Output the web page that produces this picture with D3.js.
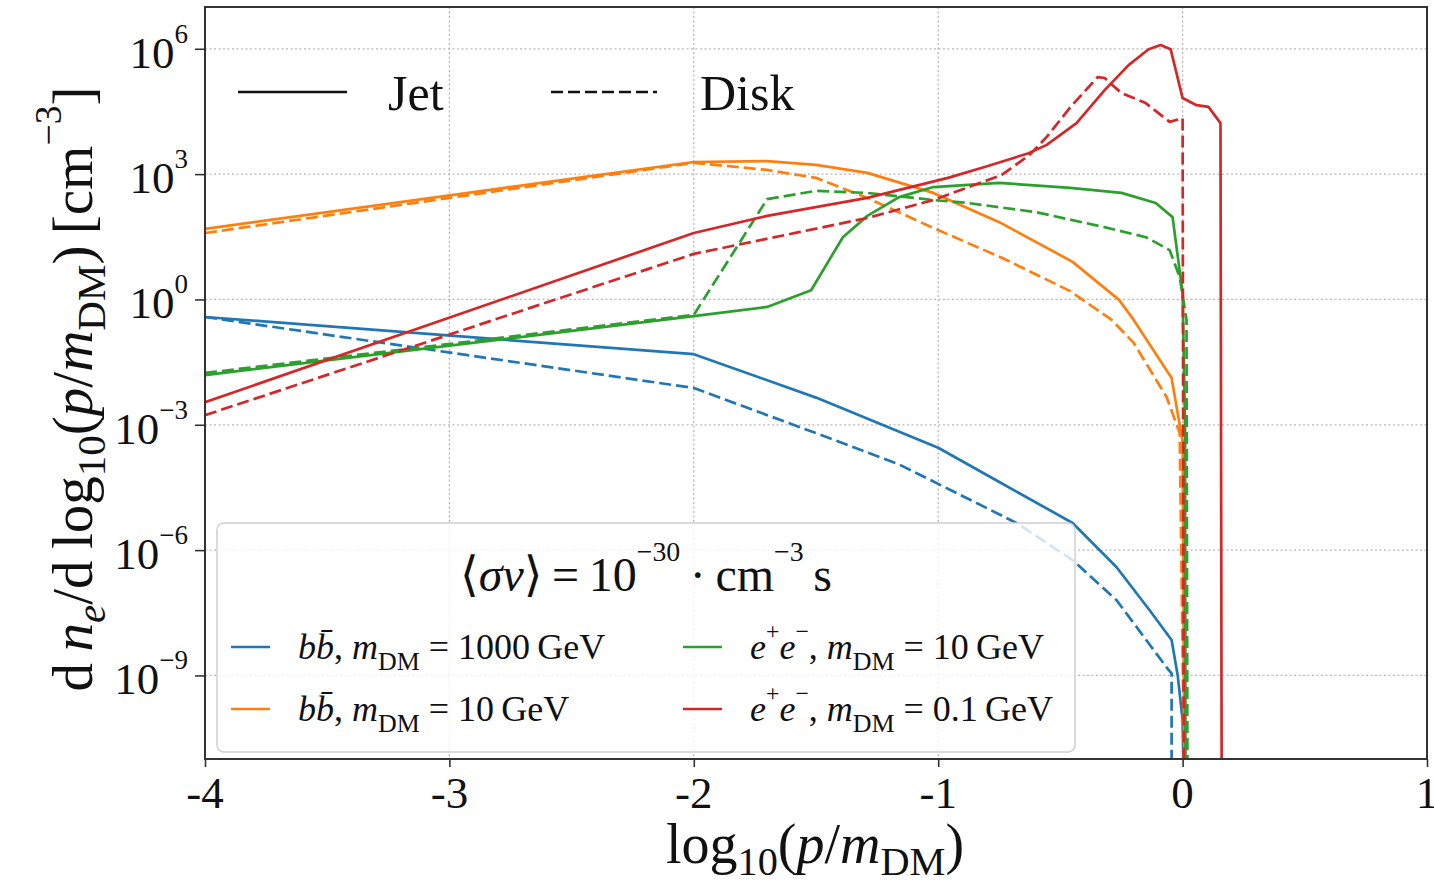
<!DOCTYPE html>
<html>
<head>
<meta charset="utf-8">
<script src="https://cdn.jsdelivr.net/npm/d3@7"></script>
<style>
  body { margin: 0; background: #fff; }
  svg { display: block; }
</style>
</head>
<body>
<div id="chart"></div>
<script>
// points are [log10(p/mDM), log10(dn/dlog)]
var bbHeavyJet = [[-4,-0.42],[-2,-1.31],[-1.5,-2.35],[-1,-3.55],[-0.75,-4.37],[-0.45,-5.35],[-0.27,-6.41],[-0.135,-7.44],[-0.045,-8.15],[-0.02,-9.0],[0,-10.07],[0.006,-12]];
var bbHeavyDisk = [[-4,-0.42],[-2,-2.12],[-1.5,-3.2],[-1.16,-3.95],[-0.95,-4.56],[-0.68,-5.35],[-0.45,-6.24],[-0.27,-7.2],[-0.06,-8.85],[-0.045,-8.95],[-0.045,-12]];
var bbLightJet = [[-4,1.69],[-2,3.29],[-1.7,3.31],[-1.5,3.22],[-1.29,3.03],[-1.02,2.55],[-0.75,1.85],[-0.45,0.9],[-0.26,-0.01],[-0.2,-0.49],[-0.045,-1.88],[0,-3.4],[0.008,-12]];
var bbLightDisk = [[-4,1.59],[-2,3.27],[-1.7,3.10],[-1.5,2.91],[-1.29,2.43],[-1.02,1.71],[-0.74,1.0],[-0.46,0.2],[-0.29,-0.49],[-0.2,-1.04],[-0.065,-2.34],[-0.012,-3.2],[0.008,-12]];
var eeTenJet = [[-4,-1.81],[-2,-0.40],[-1.7,-0.18],[-1.52,0.22],[-1.39,1.49],[-1.29,2.0],[-1.16,2.45],[-1.02,2.69],[-0.75,2.79],[-0.46,2.67],[-0.25,2.55],[-0.11,2.31],[-0.041,1.97],[0,0.15],[0.01,-3],[0.012,-12]];
var eeTenDisk = [[-4,-1.76],[-2,-0.37],[-1.7,2.40],[-1.5,2.6],[-1.29,2.55],[-1.02,2.38],[-0.88,2.31],[-0.6,2.09],[-0.32,1.73],[-0.15,1.49],[-0.053,1.18],[-0.012,0.54],[0.016,-0.49],[0.02,-12]];
var eeLightJet = [[-4,-2.46],[-2,1.59],[-1.7,2.0],[-1.29,2.43],[-0.96,2.91],[-0.81,3.17],[-0.63,3.5],[-0.556,3.70],[-0.434,4.22],[-0.319,5.01],[-0.221,5.61],[-0.139,5.99],[-0.09,6.09],[-0.049,5.99],[0,4.82],[0.057,4.65],[0.106,4.61],[0.155,4.22],[0.16,-12]];
var eeLightDisk = [[-4,-2.77],[-2,1.09],[-1.57,1.61],[-1.29,1.95],[-1.02,2.38],[-0.74,2.98],[-0.626,3.46],[-0.556,3.89],[-0.458,4.61],[-0.348,5.32],[-0.319,5.30],[-0.25,4.94],[-0.151,4.70],[-0.053,4.25],[0,4.34],[0.005,-12]];

var xTicks = [-4, -3, -2, -1, 0, 1];
var xTickLabels = ['-4', '-3', '-2', '-1', '0', '1'];
var yTickExps = [-9, -6, -3, 0, 3, 6];

var colors = ['#1f77b4', '#ff7f0e', '#2ca02c', '#d62728'];

var series = [
  {data: bbHeavyJet, color: colors[0], dashed: false},
  {data: bbHeavyDisk, color: colors[0], dashed: true},
  {data: bbLightJet, color: colors[1], dashed: false},
  {data: bbLightDisk, color: colors[1], dashed: true},
  {data: eeTenJet, color: colors[2], dashed: false},
  {data: eeTenDisk, color: colors[2], dashed: true},
  {data: eeLightJet, color: colors[3], dashed: false},
  {data: eeLightDisk, color: colors[3], dashed: true}
];

var W = 1434, H = 884;
// plot box (note: "top" is taken by window.top)
var pLeft = 205, pTop = 7, pRight = 1427, pBottom = 759;
var serif = '"Liberation Serif", "DejaVu Serif", "Times New Roman", serif';
var dash = '12,5';

var svg = d3.select('#chart').append('svg')
  .attr('width', W).attr('height', H)
  .style('font-family', serif);

var x = d3.scaleLinear().domain([-4, 1]).range([pLeft, pRight]);
var y = d3.scaleLog().domain([1e-11, 1e7]).range([pBottom, pTop]);

// helper for text with italics / sub / superscripts
function rich(sel, parts, size, o) {
  o = o || {};
  var subShift = o.subShift || 0.26, supShift = o.supShift || 0.48;
  var subSize = o.subSize || 0.72, supSize = o.supSize || 0.66;
  var cur = 0;
  parts.forEach(function(p) {
    var t = p[0], k = p[1] || '';
    var shift = 0, fs = size;
    if (k.indexOf('sub') >= 0) { shift = size * subShift; fs = size * subSize; }
    if (k.indexOf('sup') >= 0) { shift = -size * supShift; fs = size * supSize; }
    sel.append('tspan')
      .attr('dy', shift - cur)
      .attr('font-size', fs)
      .attr('font-style', k.charAt(0) === 'i' ? 'italic' : 'normal')
      .text(t);
    cur = shift;
  });
}

/* grid */
var grid = svg.append('g').attr('stroke', '#b8b8b8').attr('stroke-width', 1.3).attr('stroke-dasharray', '2,2.5');
xTicks.forEach(function(v) {
  grid.append('line').attr('x1', x(v)).attr('x2', x(v)).attr('y1', pTop).attr('y2', pBottom);
});
yTickExps.forEach(function(e) {
  grid.append('line').attr('x1', pLeft).attr('x2', pRight).attr('y1', y(Math.pow(10, e))).attr('y2', y(Math.pow(10, e)));
});

/* curves */
svg.append('clipPath').attr('id', 'clip')
  .append('rect').attr('x', pLeft).attr('y', pTop).attr('width', pRight - pLeft).attr('height', pBottom - pTop);

var line = d3.line()
  .x(function(d) { return x(d[0]); })
  .y(function(d) { return y(Math.pow(10, d[1])); });

svg.append('g').attr('clip-path', 'url(#clip)')
  .selectAll('path')
  .data(series)
  .enter()
  .append('path')
  .attr('d', function(d) { return line(d.data); })
  .attr('fill', 'none')
  .attr('stroke', function(d) { return d.color; })
  .attr('stroke-width', 2.7)
  .attr('stroke-linejoin', 'round')
  .attr('stroke-dasharray', function(d) { return d.dashed ? dash : null; });

/* axes */
var xAxis = d3.axisBottom(x).tickValues(xTicks).tickSize(8).tickFormat('');
var yAxis = d3.axisLeft(y).tickValues(yTickExps.map(function(e) { return Math.pow(10, e); })).tickSize(10).tickFormat('');

var gx = svg.append('g').attr('transform', 'translate(0,' + pBottom + ')').call(xAxis);
var gy = svg.append('g').attr('transform', 'translate(' + pLeft + ',0)').call(yAxis);
[gx, gy].forEach(function(g) {
  g.select('.domain').remove();
  g.selectAll('line').attr('stroke', '#333').attr('stroke-width', 1.6);
});

svg.append('rect')
  .attr('x', pLeft).attr('y', pTop).attr('width', pRight - pLeft).attr('height', pBottom - pTop)
  .attr('fill', 'none').attr('stroke', '#333').attr('stroke-width', 2);

xTicks.forEach(function(v, i) {
  svg.append('text')
    .attr('x', x(v)).attr('y', pBottom + 49)
    .attr('text-anchor', 'middle')
    .attr('font-size', 45)
    .attr('fill', '#111')
    .text(xTickLabels[i]);
});

yTickExps.forEach(function(e) {
  var t = svg.append('text')
    .attr('x', 188).attr('y', y(Math.pow(10, e)) + 19)
    .attr('text-anchor', 'end')
    .attr('fill', '#111');
  t.append('tspan').attr('font-size', 45).text('10');
  t.append('tspan').attr('font-size', 27).attr('dy', -25).text(e < 0 ? '\u2212' + (-e) : String(e));
});

/* axis labels */
var xl = svg.append('text')
  .attr('x', 815).attr('y', 863)
  .attr('text-anchor', 'middle').attr('fill', '#111');
rich(xl, [['log'], ['10', 'sub'], ['('], ['p', 'i'], ['/'], ['m', 'i'], ['DM', 'sub'], [')']], 56, {subShift: 0.22});

var yl = svg.append('text')
  .attr('transform', 'translate(92,389) rotate(-90)')
  .attr('text-anchor', 'middle').attr('fill', '#111');
rich(yl, [['d\u2009'], ['n', 'i'], ['e', 'isub'], ['/d\u2009log'], ['10', 'sub'], ['('], ['p', 'i'], ['/'], ['m', 'i'], ['DM', 'sub'], [')\u2009[cm'], ['\u22123', 'sup'], [']']], 57, {subShift: 0.22, supShift: 0.55});

/* top legend: line styles */
var styleLegend = [
  {label: 'Jet', x1: 238, x2: 347, tx: 388, dashed: false},
  {label: 'Disk', x1: 551, x2: 657, tx: 700, dashed: true}
];
styleLegend.forEach(function(d) {
  svg.append('line')
    .attr('x1', d.x1).attr('x2', d.x2).attr('y1', 92).attr('y2', 92)
    .attr('stroke', '#111').attr('stroke-width', 2.7)
    .attr('stroke-dasharray', d.dashed ? dash : null);
  svg.append('text')
    .attr('x', d.tx).attr('y', 110)
    .attr('font-size', 50).attr('fill', '#111')
    .text(d.label);
});

/* bottom legend */
svg.append('rect')
  .attr('x', 217).attr('y', 523).attr('width', 858).attr('height', 229)
  .attr('rx', 7)
  .attr('fill', 'rgba(255,255,255,0.8)')
  .attr('stroke', '#d0d0d0').attr('stroke-width', 1.5);

var title = svg.append('text')
  .attr('x', 646).attr('y', 591)
  .attr('text-anchor', 'middle').attr('fill', '#111');
rich(title, [['\u27E8'], ['\u03C3v', 'i'], ['\u27E9\u2009=\u200910'], ['\u221230', 'sup'], ['\u2009\u00B7\u2009cm'], ['\u22123', 'sup'], ['\u2009s']], 48, {supShift: 0.62, supSize: 0.58});

var entries = [
  {color: colors[0], col: 0, row: 0, parts: [['bb\u0304', 'i'], [', '], ['m', 'i'], ['DM', 'sub'], [' = 1000\u2009GeV']]},
  {color: colors[1], col: 0, row: 1, parts: [['bb\u0304', 'i'], [', '], ['m', 'i'], ['DM', 'sub'], [' = 10\u2009GeV']]},
  {color: colors[2], col: 1, row: 0, parts: [['e', 'i'], ['+', 'sup'], ['e', 'i'], ['\u2212', 'sup'], [', '], ['m', 'i'], ['DM', 'sub'], [' = 10\u2009GeV']]},
  {color: colors[3], col: 1, row: 1, parts: [['e', 'i'], ['+', 'sup'], ['e', 'i'], ['\u2212', 'sup'], [', '], ['m', 'i'], ['DM', 'sub'], [' = 0.1\u2009GeV']]}
];
var colX = [231, 683];
var rowY = [647, 709];
entries.forEach(function(d) {
  var lx = colX[d.col], ly = rowY[d.row];
  svg.append('line')
    .attr('x1', lx).attr('x2', lx + 39).attr('y1', ly).attr('y2', ly)
    .attr('stroke', d.color).attr('stroke-width', 2.7);
  var t = svg.append('text')
    .attr('x', lx + 67).attr('y', ly + 12)
    .attr('fill', '#111');
  rich(t, d.parts, 36, {subShift: 0.3, supShift: 0.55});
});
</script>
</body>
</html>
